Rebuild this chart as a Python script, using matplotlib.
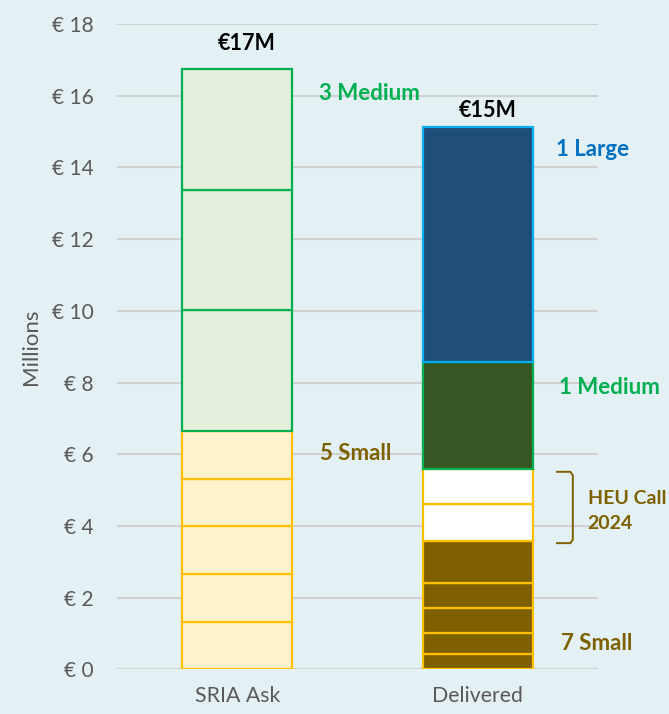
import matplotlib.pyplot as plt
import numpy as np

plt.rcParams['font.family'] = ['Lato', 'DejaVu Sans']

# Datos (millones de euros)
categories = ["SRIA Ask", "Delivered"]
sria_small = [1.33, 1.33, 1.33, 1.33, 1.34]
sria_medium = [3.35, 3.37, 3.37]
deliv_small = [0.43, 0.59, 0.70, 0.70, 1.17]
deliv_heu = [1.01, 0.99]
deliv_medium = [2.99]
deliv_large = [6.54]
totals_label = ["€17M", "€15M"]
yticks = [0, 2, 4, 6, 8, 10, 12, 14, 16, 18]

bg = "#E3F1F5"
fig = plt.figure(figsize=(6.69, 7.14), dpi=100, facecolor=bg)
ax = fig.add_axes([0.175, 0.0625, 0.719, 0.904], facecolor=bg)

width = 0.457


def stack(ax, x, values, bottom, face, edge, lw=1.6):
    for v in values:
        ax.bar(x, v, width=width, bottom=bottom, color=face, edgecolor=edge,
               linewidth=lw, zorder=3)
        bottom += v
    return bottom


# Barra SRIA Ask
b = stack(ax, 0, sria_small, 0.0, "#FFF2CC", "#FFC000")
sria_total = stack(ax, 0, sria_medium, b, "#E2EFDA", "#00B050")

# Barra Delivered
b = stack(ax, 1, deliv_small, 0.0, "#7F6000", "#FFC000")
heu_bottom = b
b = stack(ax, 1, deliv_heu, b, "#FFFFFF", "#FFC000")
heu_top = b
b = stack(ax, 1, deliv_medium, b, "#375623", "#00B050")
deliv_total = stack(ax, 1, deliv_large, b, "#1F4E79", "#00B0F0")

# Totales encima de las barras
ax.text(0.04, sria_total + 0.4, totals_label[0], ha="center", va="bottom",
        fontsize=15.5, fontweight="bold", color="black")
ax.text(1.04, deliv_total + 0.18, totals_label[1], ha="center", va="bottom",
        fontsize=15.5, fontweight="bold", color="black")

# Etiquetas de segmentos
lab = dict(ha="left", va="center", fontsize=16, fontweight="bold")
ax.text(0.339, sria_total - 0.7, "3 Medium", color="#00B050", **lab)
ax.text(0.343, sum(sria_small) - 0.63, "5 Small", color="#7F6000", **lab)
ax.text(1.324, deliv_total - 0.63, "1 Large", color="#0070C0", **lab)
ax.text(1.337, heu_top + deliv_medium[0] - 0.73, "1 Medium", color="#00B050", **lab)
ax.text(1.345, 0.72, "7 Small", color="#7F6000", **lab)
ax.text(1.457, (heu_bottom + heu_top) / 2 - 0.18, "HEU Call\n2024", ha="left",
        va="center", fontsize=14, fontweight="bold", color="#7F6000",
        linespacing=1.6)

# Corchete para HEU Call
bx0, bx1 = 1.325, 1.395
r = 0.1
top, bot = heu_top - 0.08, heu_bottom - 0.07
ys = [top, top, top - r, bot + r, bot, bot]
xs = [bx0, bx1 - 0.01, bx1, bx1, bx1 - 0.01, bx0]
ax.plot(xs, ys, color="#7F6000", linewidth=1.4, clip_on=False, zorder=4,
        solid_capstyle="butt", solid_joinstyle="round")

# Ejes
ax.set_xlim(-0.5, 1.5)
ax.set_ylim(0, 18)
ax.set_yticks(yticks)
ax.set_yticklabels([f"€ {t}" for t in yticks])
ax.set_xticks([0, 1])
ax.set_xticklabels(categories)
ax.tick_params(axis="both", length=0, colors="#595959")
ax.tick_params(axis="y", pad=17, labelsize=15)
ax.tick_params(axis="x", pad=12, labelsize=15.3)
ax.yaxis.grid(True, color="#D0D0D0", linewidth=1.5, zorder=0)
ax.set_axisbelow(True)
for s in ax.spines.values():
    s.set_visible(False)
ax.set_ylabel("Millions", fontsize=16, color="#595959", labelpad=8)

fig.savefig("out.png", dpi=100, facecolor=bg)
